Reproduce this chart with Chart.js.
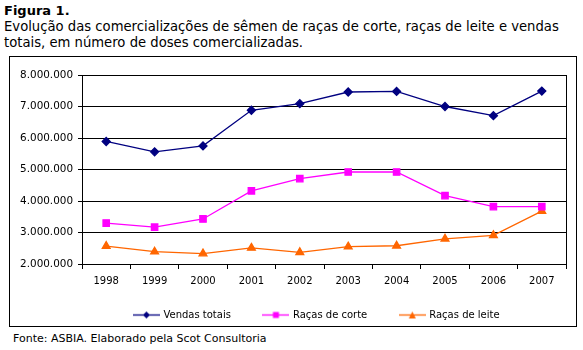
<!DOCTYPE html>
<html>
<head>
<meta charset="utf-8">
<script src="https://cdn.jsdelivr.net/npm/chart.js"></script>
<style>
  body { margin: 0; background: #fff; font-family: "DejaVu Sans", Verdana, sans-serif; }
  #page { position: relative; width: 583px; height: 350px; overflow: hidden; }
  #title { position: absolute; left: 4px; top: 3px; font-size: 13.2px; line-height: 16px; white-space: nowrap; color: #000; }
  #title b { font-size: 13px; }
  #box { position: absolute; left: 9px; top: 56px; width: 568px; height: 271px; border: 1px solid #000; box-sizing: border-box; }
  #box canvas { position: absolute; left: 0; top: 0; }
  #fonte { position: absolute; left: 13px; top: 332px; font-size: 11px; white-space: nowrap; }
</style>
</head>
<body>
<div id="page">
  <div id="title"><b>Figura 1.</b><br>Evolução das comercializações de sêmen de raças de corte, raças de leite e vendas<br>totais, em número de doses comercializadas.</div>
  <div id="box"><canvas id="chart" width="566" height="269"></canvas></div>
  <div id="fonte">Fonte: ASBIA. Elaborado pela Scot Consultoria</div>
</div>

<script>
  const years = ["1998", "1999", "2000", "2001", "2002", "2003", "2004", "2005", "2006", "2007"];
  const vendasTotais = [5890000, 5560000, 5750000, 6880000, 7090000, 7460000, 7480000, 7000000, 6710000, 7490000];
  const racasCorte = [3300000, 3170000, 3430000, 4320000, 4710000, 4920000, 4920000, 4170000, 3820000, 3820000];
  const racasLeite = [2570000, 2390000, 2330000, 2510000, 2370000, 2550000, 2580000, 2800000, 2910000, 3680000];

  const NAVY = "#000080";
  const MAGENTA = "#FF00FF";
  const ORANGE = "#FF6600";

  // legend icon: short line with the marker in the middle
  function legendIcon(color, style) {
    const c = document.createElement("canvas");
    c.width = 27; c.height = 9;
    const ctx = c.getContext("2d");
    ctx.strokeStyle = color;
    ctx.lineWidth = 1.3;
    ctx.beginPath(); ctx.moveTo(0, 4.5); ctx.lineTo(27, 4.5); ctx.stroke();
    ctx.fillStyle = color;
    ctx.beginPath();
    if (style === "diamond") {
      ctx.moveTo(13.5, 1); ctx.lineTo(17, 4.5); ctx.lineTo(13.5, 8); ctx.lineTo(10, 4.5);
    } else if (style === "rect") {
      ctx.rect(10.5, 1.5, 6, 6);
    } else {
      ctx.moveTo(13.5, 1); ctx.lineTo(17, 8); ctx.lineTo(10, 8);
    }
    ctx.closePath(); ctx.fill();
    return c;
  }

  const icons = [legendIcon(NAVY, "diamond"), legendIcon(MAGENTA, "rect"), legendIcon(ORANGE, "triangle")];

  function fmt(v) {
    return String(v).replace(/\B(?=(\d{3})+(?!\d))/g, ".");
  }

  // border round the plot area
  const frame = {
    id: "frame",
    afterDraw(chart) {
      const a = chart.chartArea, ctx = chart.ctx;
      ctx.save();
      ctx.strokeStyle = "#000";
      ctx.lineWidth = 1;
      ctx.strokeRect(Math.round(a.left) + 0.5, Math.round(a.top) + 0.5, Math.round(a.right - a.left), Math.round(a.bottom - a.top));
      ctx.restore();
    }
  };

  // legend: small box for the layout so the plot keeps its size, then moved up/left
  const legendPlace = {
    id: "legendPlace",
    beforeLayout(chart) {
      const lg = chart.legend;
      if (lg && !lg._fixed) {
        const fit = lg.fit;
        lg.fit = function () { fit.call(this); this.height = 29; };
        lg._fixed = true;
      }
    },
    afterLayout(chart) {
      const lg = chart.legend;
      if (!lg) return;
      lg.top -= 20;
      lg.left -= 7; lg.right -= 7;
      lg.height = lg.bottom - lg.top;
    }
  };

  Chart.defaults.font.family = "'DejaVu Sans', Verdana, sans-serif";
  Chart.defaults.font.size = 10;
  Chart.defaults.color = "#000";

  new Chart(document.getElementById("chart"), {
    type: "line",
    data: {
      labels: years,
      datasets: [
        { label: "Vendas totais", data: vendasTotais, borderColor: NAVY, backgroundColor: NAVY,
          pointStyle: "rectRot", pointRadius: 4, borderWidth: 1.3, tension: 0 },
        { label: "Raças de corte", data: racasCorte, borderColor: MAGENTA, backgroundColor: MAGENTA,
          pointStyle: "rect", pointRadius: 4.5, borderWidth: 1.3, tension: 0 },
        { label: "Raças de leite", data: racasLeite, borderColor: ORANGE, backgroundColor: ORANGE,
          pointStyle: "triangle", pointRadius: 4.5, borderWidth: 1.3, tension: 0 }
      ]
    },
    options: {
      responsive: false,
      animation: false,
      layout: { padding: { left: 0, right: 10, top: 18, bottom: 0 } },
      plugins: {
        tooltip: { enabled: false },
        legend: {
          position: "bottom",
          fullSize: false,
          labels: {
            usePointStyle: true,
            pointStyleWidth: 24,
            padding: 33,
            color: "#000",
            generateLabels(chart) {
              return chart.data.datasets.map((ds, i) => ({
                text: ds.label, pointStyle: icons[i], datasetIndex: i,
                fillStyle: ds.borderColor, strokeStyle: ds.borderColor, lineWidth: 0, hidden: false
              }));
            }
          }
        }
      },
      scales: {
        x: {
          offset: true,
          grid: { display: true, offset: true, drawOnChartArea: false, color: "#000", tickLength: 5 },
          border: { color: "#000" },
          ticks: { maxRotation: 0, padding: 6 },
          afterFit(s) { s.height = 33; }
        },
        y: {
          min: 2000000, max: 8000000,
          grid: { color: "#000", tickLength: 4 },
          border: { color: "#000" },
          ticks: { stepSize: 1000000, padding: 5, font: { size: 10.4 }, callback: v => fmt(v) },
          afterFit(s) { s.width = 72; }
        }
      }
    },
    plugins: [frame, legendPlace]
  });
</script>
</body>
</html>
